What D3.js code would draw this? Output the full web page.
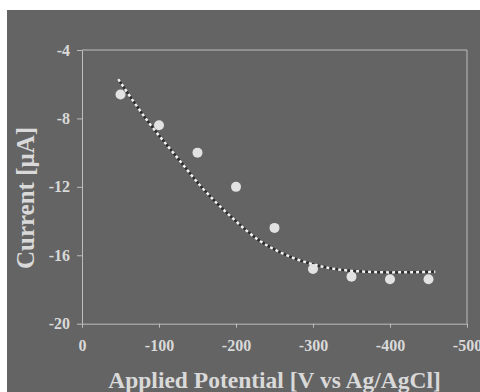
<!DOCTYPE html>
<html>
<head>
<meta charset="utf-8">
<script src="https://cdn.jsdelivr.net/npm/d3@7"></script>
<style>
  html, body { margin: 0; padding: 0; background: #ffffff; }
  #chart-wrapper { width: 480px; height: 392px; }
</style>
</head>
<body>
<div id="chart-wrapper"></div>
<script>
// Measured points
const potentials = [-50, -100, -150, -200, -250, -300, -350, -400, -450]
const currents = [-6.6, -8.4, -10.0, -12.0, -14.4, -16.8, -17.25, -17.4, -17.4]

// Trend line
const trendX = [-47, -86, -123, -155, -196, -229, -261, -300, -348, -400, -452, -459]
const trendY = [-5.7, -8.2, -10.25, -12.0, -13.85, -15.1, -15.9, -16.53, -16.9, -17.0, -16.97, -16.96]

// Axis ticks
const xTicks = [0, -100, -200, -300, -400, -500]
const yTicks = [-4, -8, -12, -16, -20]

const xTitle = "Applied Potential [V vs Ag/AgCl]"
const yTitle = "Current [\u03bcA]"

// Configs
let config = {
  bg: "#646464",
  text: "#d9d9d9",
  axis: "#bdbdbd",
  point: "#e2e2e2",
  font: "'Liberation Serif', 'Times New Roman', serif"
}

const width = 480
const height = 392
const plot = {left: 82, right: 467, top: 50, bottom: 323.7}

const svg = d3.select("#chart-wrapper")
  .append("svg")
  .attr("width", width)
  .attr("height", height)

// Gray panel (white strip left/top)
svg.append("rect")
  .attr("x", 7).attr("y", 10)
  .attr("width", width - 7).attr("height", height - 10)
  .attr("fill", config.bg)

const xScale = d3.scaleLinear().domain([0, -500]).range([plot.left, plot.right])
const yScale = d3.scaleLinear().domain([-20, -4]).range([plot.bottom, plot.top])

// Frame top and right
svg.append("path")
  .attr("d", `M${plot.left},${plot.top}H${plot.right}V${plot.bottom}`)
  .attr("fill", "none")
  .attr("stroke", config.axis)
  .attr("stroke-width", 1)

// X axis
const xAxis = svg.append("g")
  .attr("transform", `translate(0,${plot.bottom})`)
  .call(d3.axisBottom(xScale).tickValues(xTicks).tickFormat(d => String(d))
    .tickSizeInner(4).tickSizeOuter(0).tickPadding(12))
xAxis.selectAll("line,path").attr("stroke", config.axis)
xAxis.selectAll("text")
  .attr("fill", config.text)
  .attr("font-family", config.font)
  .attr("font-weight", "bold")
  .attr("font-size", 16)

// Y axis
const yAxis = svg.append("g")
  .attr("transform", `translate(${plot.left},0)`)
  .call(d3.axisLeft(yScale).tickValues(yTicks).tickFormat(d => String(d))
    .tickSizeInner(5).tickSizeOuter(0).tickPadding(7))
yAxis.selectAll("line,path").attr("stroke", config.axis)
yAxis.selectAll("text")
  .attr("fill", config.text)
  .attr("font-family", config.font)
  .attr("font-weight", "bold")
  .attr("font-size", 16)

// Trend line: dark base with white dots on top
const trendData = trendX.map((x, i) => [x, trendY[i]])
const line = d3.line()
  .x(d => xScale(d[0]))
  .y(d => yScale(d[1]))
  .curve(d3.curveMonotoneX)
svg.append("path")
  .datum(trendData)
  .attr("d", line)
  .attr("fill", "none")
  .attr("stroke", "#2e2e2e")
  .attr("stroke-width", 2.5)
svg.append("path")
  .datum(trendData)
  .attr("d", line)
  .attr("fill", "none")
  .attr("stroke", "#f2f2f2")
  .attr("stroke-width", 2.5)
  .attr("stroke-dasharray", "3,3")

// Points
svg.append("g")
  .selectAll("circle")
  .data(potentials.map((p, i) => [p, currents[i]]))
  .join("circle")
  .attr("cx", d => xScale(d[0]))
  .attr("cy", d => yScale(d[1]))
  .attr("r", 5)
  .attr("fill", config.point)

// Axis titles
svg.append("text")
  .attr("x", (plot.left + plot.right) / 2)
  .attr("y", 388)
  .attr("text-anchor", "middle")
  .attr("fill", config.text)
  .attr("font-family", config.font)
  .attr("font-weight", "bold")
  .attr("font-size", 23.5)
  .text(xTitle)

svg.append("text")
  .attr("transform", `translate(34,198) rotate(-90)`)
  .attr("text-anchor", "middle")
  .attr("fill", config.text)
  .attr("font-family", config.font)
  .attr("font-weight", "bold")
  .attr("font-size", 25)
  .text(yTitle)
</script>
</body>
</html>
